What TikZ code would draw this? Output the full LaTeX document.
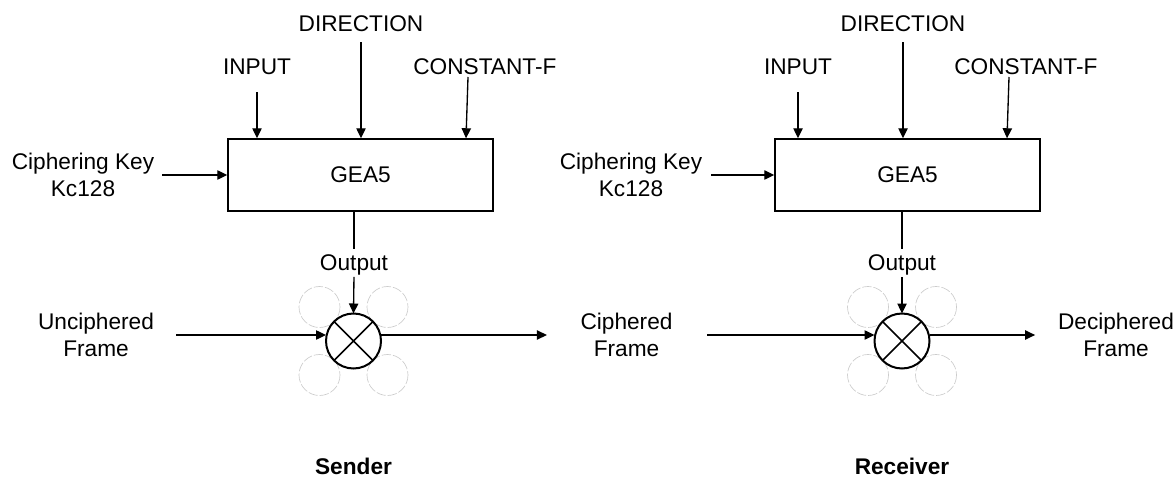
\documentclass[tikz,border=0pt]{standalone}
\usepackage{fontspec}
\setmainfont{Liberation Sans}
\usetikzlibrary{arrows.meta,positioning,shapes}

\begin{document}
\begin{tikzpicture}[x=0.75pt, y=-0.75pt,
                    every node/.style={font=\fontsize{17}{20.25}\selectfont, inner sep=0pt},
                    lbl/.style={align=center},
                    side/.style={font=\fontsize{17}{20.25}\selectfont\bfseries, anchor=base},
                    arr/.style={-{Triangle[length=7.5pt,width=7pt]}, line width=1pt},
                    gea/.style={draw, line width=1.1pt, minimum width=198.75pt, minimum height=54pt},
                    xor/.style={draw, circle, line width=1.5pt, minimum size=41.25pt, outer sep=0pt},
                    ghost/.style={gray!40, line width=0.5pt, dash pattern=on 7pt off 1.5pt}]
                    \useasboundingbox (0,0) rectangle (1176,477);
                    % sender
                    \node[gea] (geaL) at (360.5,175) {GEA5};
                    \node[anchor=base] (dirL) at (361,32) {DIRECTION};
                    \node[anchor=base] (inpL) at (257,75) {INPUT};
                    \node[anchor=base west] (conL) at (413,75) {CONSTANT-F};
                    \coordinate (conLa) at (468,77);
                    \node[lbl] (keyL) at (83,175) {Ciphering Key\\Kc128};
                    \node[anchor=base] (outL) at (354,270) {Output};
                    \draw[ghost] (319.5,307) circle[radius=20.5];
                    \draw[ghost] (387.5,307) circle[radius=20.5];
                    \draw[ghost] (319.5,375) circle[radius=20.5];
                    \draw[ghost] (387.5,375) circle[radius=20.5];
                    \node[xor] (xorL) at (353.5,341) {};
                    \draw[line width=1.2pt] (xorL.north west) -- (xorL.south east) (xorL.north east) -- (xorL.south west);
                    \node[lbl] (uncL) at (96,335) {Unciphered\\Frame};
                    \node[lbl] (cip) at (626.5,335) {Ciphered\\Frame};
                    \node[side] (sndL) at (353.5,474.5) {Sender};
                    \draw[arr, shorten <=12.75pt] (inpL.south) -- (inpL.south |- geaL.north);
                    \draw[arr, shorten <=7.5pt] (dirL.south) -- (dirL.south |- geaL.north);
                    \draw[arr] (conLa) -- ([xshift=-1.5pt]conLa |- geaL.north);
                    \draw[arr, shorten <=6pt] (keyL.east) -- (keyL.east -| geaL.west);
                    \draw[line width=1pt, shorten >=4pt] (geaL.south -| outL) -- (outL.north);
                    \draw[arr, shorten <=1.5pt] (outL.south) -- (xorL.north);
                    \draw[arr, shorten <=16.5pt] (uncL.east) -- (uncL.east -| xorL.west);
                    \draw[arr, shorten >=25pt] (xorL.east |- cip.west) -- (cip.west);
                    % receiver
                    \node[gea] (geaR) at (907.5,175) {GEA5};
                    \node[anchor=base] (dirR) at (903,32) {DIRECTION};
                    \node[anchor=base] (inpR) at (798,75) {INPUT};
                    \node[anchor=base west] (conR) at (954,75) {CONSTANT-F};
                    \coordinate (conRa) at (1009,77);
                    \node[lbl] (keyR) at (631,175) {Ciphering Key\\Kc128};
                    \node[anchor=base] (outR) at (902,270) {Output};
                    \draw[ghost] (868,307) circle[radius=20.5];
                    \draw[ghost] (936,307) circle[radius=20.5];
                    \draw[ghost] (868,375) circle[radius=20.5];
                    \draw[ghost] (936,375) circle[radius=20.5];
                    \node[xor] (xorR) at (902,341) {};
                    \draw[line width=1.2pt] (xorR.north west) -- (xorR.south east) (xorR.north east) -- (xorR.south west);
                    \node[lbl] (dec) at (1116,335) {Deciphered\\Frame};
                    \node[side] (rcv) at (902,474.5) {Receiver};
                    \draw[arr, shorten <=12.75pt] (inpR.south) -- (inpR.south |- geaR.north);
                    \draw[arr, shorten <=7.5pt] (dirR.south) -- (dirR.south |- geaR.north);
                    \draw[arr] (conRa) -- ([xshift=-1.5pt]conRa |- geaR.north);
                    \draw[arr, shorten <=6.5pt] (keyR.east) -- (keyR.east -| geaR.west);
                    \draw[line width=1pt, shorten >=4pt] (geaR.south -| outR) -- (outR.north);
                    \draw[arr, shorten <=1.5pt] (outR.south) -- (xorR.north);
                    \draw[arr, shorten <=26pt] (cip.east) -- (cip.east -| xorR.west);
                    \draw[arr, shorten >=17pt] (xorR.east |- dec.west) -- (dec.west);
                \end{tikzpicture}
\end{document}
